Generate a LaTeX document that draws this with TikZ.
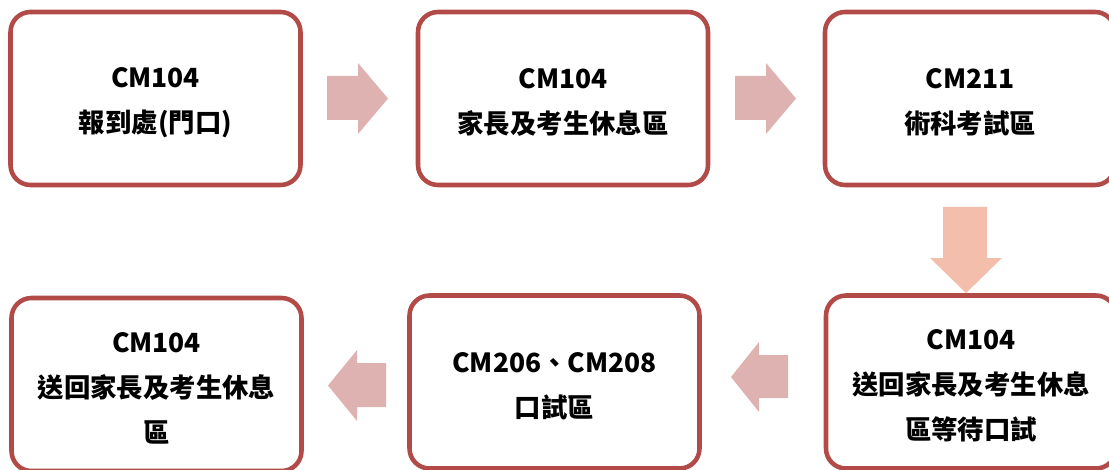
\documentclass[tikz,border=0pt]{standalone}
\usepackage{fontspec}
\setmainfont{Noto Sans CJK TC}
\definecolor{boxred}{RGB}{178,75,72}
\definecolor{arrpink}{RGB}{221,178,177}
\definecolor{arrsalmon}{RGB}{244,190,172}
\begin{document}
\begin{tikzpicture}[x=0.75pt,y=-0.75pt,
  stepbox/.style={draw=boxred,line width=3.4pt,rounded corners=15pt,fill=white,
    minimum width=217.5pt,minimum height=129.75pt,inner sep=0pt},
  steptext/.style={align=center,inner sep=0pt,
    font=\fontsize{19.8pt}{33.75pt}\selectfont\bfseries},
  blockarrow/.style={fill=arrpink,draw=none},
  downarrow/.style={fill=arrsalmon,draw=none}]
\useasboundingbox (0,0) rectangle (1109,470);
\clip (0,0) rectangle (1109,470);
\node[stepbox] (b1) at (155.5,98.5) {};
\node[stepbox] (b2) at (563,98.5) {};
\node[stepbox] (b3) at (970,98.5) {};
\node[stepbox] (b6) at (971,382) {};
\node[stepbox] (b5) at (554.5,382) {};
\node[stepbox] (b4) at (156.5,384.5) {};
\node[steptext] (t1) at ([yshift=-3pt]b1.center) {CM104\\報到處(門口)};
\node[steptext] (t2) at ([yshift=-3pt]b2.center) {CM104\\家長及考生休息區};
\node[steptext] (t3) at ([yshift=-3pt]b3.center) {CM211\\術科考試區};
\node[steptext] (t6) at ([yshift=-3pt]b6.center) {CM104\\送回家長及考生休息\\區等待口試};
\node[steptext] (t5) at ([yshift=-3pt]b5.center) {CM206、CM208\\口試區};
\node[steptext] (t4) at ([yshift=-3pt]b4.center) {CM104\\送回家長及考生休息\\區};
% arrows
\fill[blockarrow] (327,76) -- (358,76) -- (358,63) -- (388,98.5) -- (358,134) -- (358,120) -- (327,120) -- cycle;
\fill[blockarrow] (735,76) -- (766,76) -- (766,63) -- (796,98.5) -- (766,134) -- (766,120) -- (735,120) -- cycle;
\fill[downarrow] (943,207) -- (987,207) -- (987,258) -- (1002,258) -- (966,293) -- (930,258) -- (943,258) -- cycle;
\fill[blockarrow] (788,355) -- (759,355) -- (759,342) -- (731,377) -- (759,412) -- (759,398) -- (788,398) -- cycle;
\fill[blockarrow] (386,363) -- (357,363) -- (357,350) -- (328,385.5) -- (357,421) -- (357,407) -- (386,407) -- cycle;
\end{tikzpicture}
\end{document}
